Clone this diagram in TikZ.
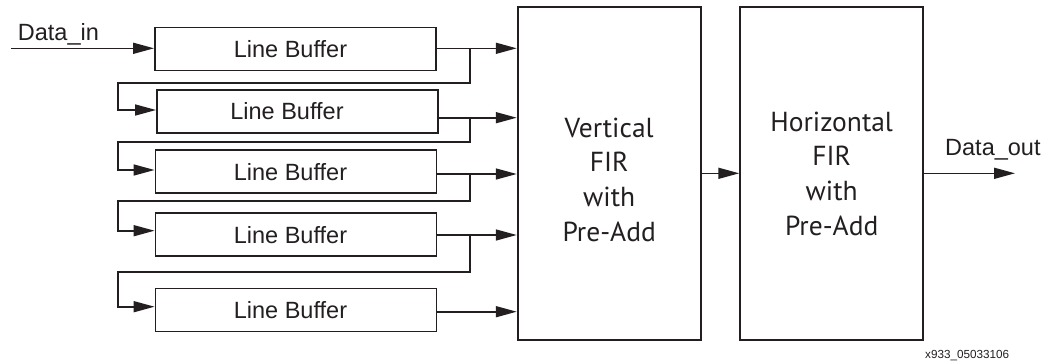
\documentclass[tikz,border=0pt]{standalone}
\usepackage{fontspec}
\setmainfont{Liberation Sans}
\newfontfamily\lbfont{Liberation Sans}
\newfontfamily\firfont{PT Sans}
\usetikzlibrary{arrows.meta}
\definecolor{ink}{HTML}{231F20}
\tikzset{
  box/.style={draw=ink, line width=1.9pt, inner sep=0pt, text=ink},
  lbuf/.style={box, minimum width=281pt, minimum height=43pt, font=\lbfont\fontsize{23.5}{28}\selectfont},
  fir/.style={box, minimum width=183pt, minimum height=333pt},
  firtext/.style={text=ink, inner sep=0pt, align=center, font=\firfont\fontsize{27.5}{34.8}\selectfont},
  conn/.style={draw=ink, line width=1.6pt},
  arr/.style={conn, -{Triangle[length=21pt,width=11pt]}},
  lbl/.style={text=ink, inner sep=0pt, font=\lbfont\fontsize{23.5}{28}\selectfont},
}
\begin{document}
\begin{tikzpicture}[x=1pt,y=-1pt]
\useasboundingbox (0,0) rectangle (1057,362);
% line buffers
\node[lbuf] (lb1) at (295.5,49) {Line Buffer\hspace*{10pt}};
\node[lbuf] (lb2) at (297.5,111.5) {Line Buffer\hspace*{21pt}};
\node[lbuf] (lb3) at (296,171.7) {Line Buffer\hspace*{11pt}};
\node[lbuf] (lb4) at (296,234.8) {Line Buffer\hspace*{11pt}};
\node[lbuf] (lb5) at (296,310) {Line Buffer\hspace*{11pt}};
% FIR blocks
\node[fir, label={[firtext, yshift=-6pt]center:{Vertical\\FIR\\with\\Pre-Add}}] (vfir) at (609.2,173.7) {};
\node[fir, label={[firtext]center:{Horizontal\\FIR\\with\\Pre-Add}}] (hfir) at (831.7,173.7) {};
% labels
\node[lbl, anchor=base west] (din) at (17.7,40) {Data\_in};
\node[lbl, anchor=base west] (dout) at (945,155) {Data\_out};
\node[text=ink, inner sep=0pt, anchor=base west, font=\lbfont\fontsize{11.7}{14}\selectfont] (fig) at (925,358) {x933\_05033106};
% coordinates
\coordinate (start) at (11,48.3);
\coordinate (end) at (1015,173.3);
\coordinate (o2) at (438.3,117.7);
\coordinate (o3) at (436.7,174);
\coordinate (o4) at (436.7,235);
\coordinate (o5) at (436.7,311.7);
\coordinate (b1) at (470,48.3);
\coordinate (b2) at (470,117.7);
\coordinate (b3) at (470,174);
\coordinate (b4) at (470,235);
\coordinate (f1) at (118,82.7);
\coordinate (f2) at (118,141.7);
\coordinate (f3) at (118,200.7);
\coordinate (f4) at (118,271.7);
\coordinate (i2) at (156.7,110);
\coordinate (i3) at (155,170);
\coordinate (i4) at (155,230.7);
\coordinate (i5) at (155,306.7);
% input
\draw[arr] (start) -- (lb1.west |- start);
% outputs to vertical FIR
\draw[arr] (lb1.east |- start) -- (vfir.west |- start);
\draw[arr] (lb2.east |- o2) -- (vfir.west |- o2);
\draw[arr] (lb3.east |- o3) -- (vfir.west |- o3);
\draw[arr] (lb4.east |- o4) -- (vfir.west |- o4);
\draw[arr] (lb5.east |- o5) -- (vfir.west |- o5);
% feedback chains
\draw[arr] (b1) |- (f1) |- (lb2.west |- i2);
\draw[arr] (b2) |- (f2) |- (lb3.west |- i3);
\draw[arr] (b3) |- (f3) |- (lb4.west |- i4);
\draw[arr] (b4) |- (f4) |- (lb5.west |- i5);
% between FIRs and output
\draw[arr] (vfir.east |- end) -- (hfir.west |- end);
\draw[arr] (hfir.east |- end) -- (end);
\end{tikzpicture}
\end{document}
